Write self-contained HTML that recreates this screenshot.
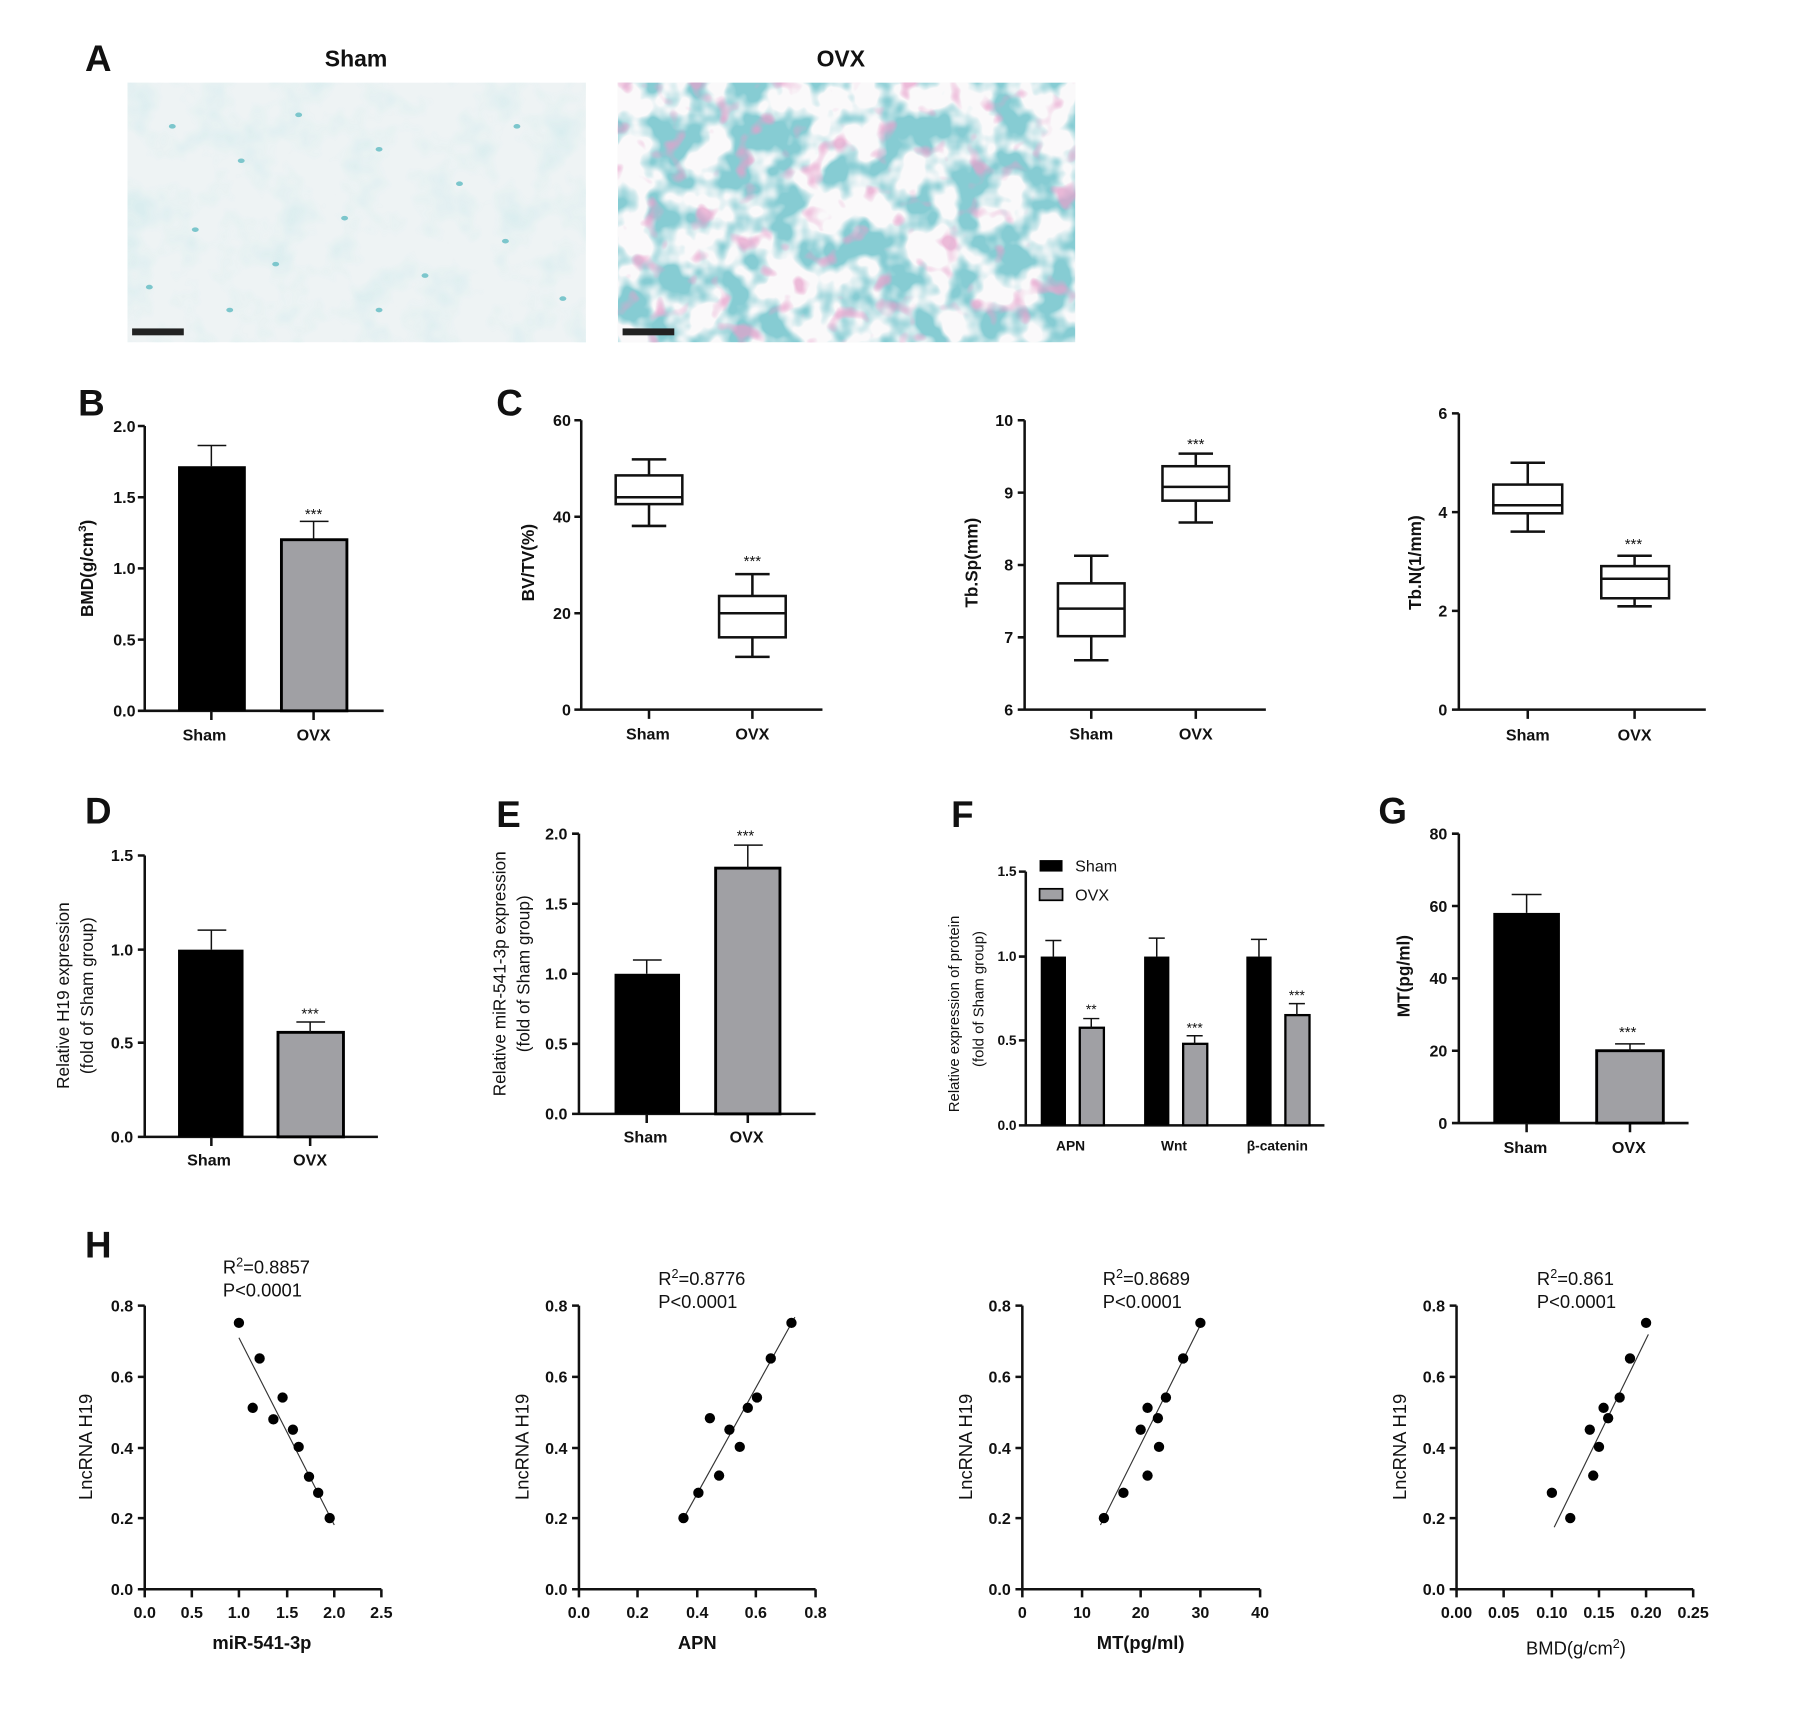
<!DOCTYPE html>
<html><head><meta charset="utf-8"><style>
html,body{margin:0;padding:0;background:#fff}
svg{display:block}
text{font-family:"Liberation Sans",Arial,sans-serif;fill:#111}
.t{font-size:14px;font-weight:bold}
.b{font-weight:bold}
.ax{stroke:#111;stroke-width:2.2;fill:none}
.thin{stroke:#111;stroke-width:1.3;fill:none}
</style></head><body>
<svg width="1800" height="1711" viewBox="0 0 1567 1490" preserveAspectRatio="none" xmlns="http://www.w3.org/2000/svg">
<defs>
<filter id="tex1" x="0" y="0" width="100%" height="100%">
<feTurbulence type="fractalNoise" baseFrequency="0.03" numOctaves="3" seed="3"/>
<feColorMatrix values="0 0 0 0 0.55  0 0 0 0 0.8  0 0 0 0 0.82  0 0 0 -2.2 1.25"/>
</filter>
<filter id="tex2" x="0" y="0" width="100%" height="100%">
<feTurbulence type="fractalNoise" baseFrequency="0.03" numOctaves="3" seed="7"/>
<feColorMatrix values="0 0 0 0 0.96  0 0 0 0 0.95  0 0 0 0 0.96  0 0 0 5 -1.9"/>
</filter>
<filter id="tex3" x="0" y="0" width="100%" height="100%">
<feTurbulence type="fractalNoise" baseFrequency="0.05" numOctaves="2" seed="11"/>
<feColorMatrix values="0 0 0 0 0.8  0 0 0 0 0.35  0 0 0 0 0.6  0 0 0 6 -3.6"/>
</filter>
</defs>

<!-- Panel A -->
<text x="74" y="62" font-size="32" class="b">A</text>
<text x="310" y="58" font-size="20" class="b" text-anchor="middle">Sham</text>
<text x="732" y="58" font-size="20" class="b" text-anchor="middle">OVX</text>
<rect x="111" y="72" width="399" height="226" fill="#eef3f4"/>
<rect x="111" y="72" width="399" height="226" filter="url(#tex1)" opacity="0.45"/>
<g fill="#7cc6cc">
<ellipse cx="150" cy="110" rx="3" ry="2"/><ellipse cx="210" cy="140" rx="3" ry="2"/><ellipse cx="260" cy="100" rx="3" ry="2"/><ellipse cx="330" cy="130" rx="3" ry="2"/><ellipse cx="400" cy="160" rx="3" ry="2"/><ellipse cx="450" cy="110" rx="3" ry="2"/><ellipse cx="170" cy="200" rx="3" ry="2"/><ellipse cx="240" cy="230" rx="3" ry="2"/><ellipse cx="300" cy="190" rx="3" ry="2"/><ellipse cx="370" cy="240" rx="3" ry="2"/><ellipse cx="440" cy="210" rx="3" ry="2"/><ellipse cx="490" cy="260" rx="3" ry="2"/><ellipse cx="200" cy="270" rx="3" ry="2"/><ellipse cx="330" cy="270" rx="3" ry="2"/><ellipse cx="130" cy="250" rx="3" ry="2"/>
</g>
<rect x="115" y="286" width="45" height="6" fill="#222"/>
<rect x="538" y="72" width="398" height="226" fill="#86ccd3"/>
<rect x="538" y="72" width="398" height="226" filter="url(#tex2)"/>
<rect x="538" y="72" width="398" height="226" filter="url(#tex3)" opacity="0.7"/>
<rect x="542" y="286" width="45" height="6" fill="#222"/>

<!-- Panel B -->
<text x="68" y="362" font-size="32" class="b">B</text>
<g class="t" text-anchor="end">
<text x="118" y="376">2.0</text><text x="118" y="438">1.5</text><text x="118" y="500">1.0</text><text x="118" y="562">0.5</text><text x="118" y="624">0.0</text>
</g>
<path class="ax" d="M126 371V619H334M120 371H126M120 433H126M120 495H126M120 557H126M120 619H126M184 619V627M273 619V627"/>
<rect x="155" y="406" width="59" height="213" fill="#000"/>
<path class="thin" d="M184 406V388M172 388H197"/>
<rect x="245" y="470" width="57" height="149" fill="#a0a0a4" stroke="#000" stroke-width="2.5"/>
<path class="thin" d="M273 470V454M261 454H286"/>
<text x="273" y="452" font-size="13" text-anchor="middle">***</text>
<text x="178" y="645" class="t" text-anchor="middle">Sham</text>
<text x="273" y="645" class="t" text-anchor="middle">OVX</text>
<text transform="translate(81,495) rotate(-90)" font-size="15" class="b" text-anchor="middle">BMD(g/cm<tspan dy="-6" font-size="10">3</tspan><tspan dy="6">)</tspan></text>

<!-- Panel C1 -->
<text x="432" y="362" font-size="32" class="b">C</text>
<g class="t" text-anchor="end">
<text x="497" y="371">60</text><text x="497" y="455">40</text><text x="497" y="539">20</text><text x="497" y="623">0</text>
</g>
<path class="ax" d="M506 366V618H716M500 366H506M500 450H506M500 534H506M500 618H506M565 618V626M655 618V626"/>
<g class="ax">
<rect x="536" y="414" width="58" height="25"/>
<path d="M565 414V400M550 400H580M565 439V458M550 458H580M536 433H594"/>
<rect x="626" y="519" width="58" height="36"/>
<path d="M655 519V500M640 500H670M655 555V572M640 572H670M626 534H684"/>
</g>
<text x="655" y="493" font-size="13" text-anchor="middle">***</text>
<text x="564" y="644" class="t" text-anchor="middle">Sham</text>
<text x="655" y="644" class="t" text-anchor="middle">OVX</text>
<text transform="translate(465,490) rotate(-90)" font-size="15" class="b" text-anchor="middle">BV/TV(%)</text>

<!-- Panel C2 -->
<g class="t" text-anchor="end">
<text x="882" y="371">10</text><text x="882" y="434">9</text><text x="882" y="497">8</text><text x="882" y="560">7</text><text x="882" y="623">6</text>
</g>
<path class="ax" d="M892 366V618H1102M886 366H892M886 429H892M886 492H892M886 555H892M886 618H892M950 618V626M1041 618V626"/>
<g class="ax">
<rect x="921" y="508" width="58" height="46"/>
<path d="M950 508V484M935 484H965M950 554V575M935 575H965M921 530H979"/>
<rect x="1012" y="406" width="58" height="30"/>
<path d="M1041 406V395M1026 395H1056M1041 436V455M1026 455H1056M1012 424H1070"/>
</g>
<text x="1041" y="391" font-size="13" text-anchor="middle">***</text>
<text x="950" y="644" class="t" text-anchor="middle">Sham</text>
<text x="1041" y="644" class="t" text-anchor="middle">OVX</text>
<text transform="translate(851,490) rotate(-90)" font-size="15" class="b" text-anchor="middle">Tb.Sp(mm)</text>

<!-- Panel C3 -->
<g class="t" text-anchor="end">
<text x="1260" y="365">6</text><text x="1260" y="451">4</text><text x="1260" y="537">2</text><text x="1260" y="623">0</text>
</g>
<path class="ax" d="M1270 360V618H1485M1264 360H1270M1264 446H1270M1264 532H1270M1264 618H1270M1330 618V626M1423 618V626"/>
<g class="ax">
<rect x="1300" y="422" width="60" height="25"/>
<path d="M1330 422V403M1315 403H1345M1330 447V463M1315 463H1345M1300 440H1360"/>
<rect x="1394" y="493" width="59" height="28"/>
<path d="M1423 493V484M1408 484H1438M1423 521V528M1408 528H1438M1394 504H1453"/>
</g>
<text x="1422" y="478" font-size="13" text-anchor="middle">***</text>
<text x="1330" y="645" class="t" text-anchor="middle">Sham</text>
<text x="1423" y="645" class="t" text-anchor="middle">OVX</text>
<text transform="translate(1237,490) rotate(-90)" font-size="15" class="b" text-anchor="middle">Tb.N(1/mm)</text>

<!-- Panel D -->
<text x="74" y="717" font-size="32" class="b">D</text>
<g class="t" text-anchor="end">
<text x="116" y="750">1.5</text><text x="116" y="832">1.0</text><text x="116" y="913">0.5</text><text x="116" y="995">0.0</text>
</g>
<path class="ax" d="M126 745V990H329M120 745H126M120 827H126M120 908H126M120 990H126M184 990V998M270 990V998"/>
<rect x="155" y="827" width="57" height="163" fill="#000"/>
<path class="thin" d="M184 827V810M172 810H197"/>
<rect x="242" y="899" width="57" height="91" fill="#a0a0a4" stroke="#000" stroke-width="2.5"/>
<path class="thin" d="M270 899V890M258 890H283"/>
<text x="270" y="887" font-size="13" text-anchor="middle">***</text>
<text x="182" y="1015" class="t" text-anchor="middle">Sham</text>
<text x="270" y="1015" class="t" text-anchor="middle">OVX</text>
<text transform="translate(60,867) rotate(-90)" font-size="15" text-anchor="middle">Relative H19  expression</text>
<text transform="translate(81,867) rotate(-90)" font-size="15" text-anchor="middle">(fold of Sham group)</text>

<!-- Panel E -->
<text x="432" y="720" font-size="32" class="b">E</text>
<g class="t" text-anchor="end">
<text x="494" y="731">2.0</text><text x="494" y="792">1.5</text><text x="494" y="853">1.0</text><text x="494" y="914">0.5</text><text x="494" y="975">0.0</text>
</g>
<path class="ax" d="M504 726V970H710M498 726H504M498 787H504M498 848H504M498 909H504M498 970H504M563 970V978M651 970V978"/>
<rect x="535" y="848" width="57" height="122" fill="#000"/>
<path class="thin" d="M563 848V836M551 836H576"/>
<rect x="623" y="756" width="56" height="214" fill="#a0a0a4" stroke="#000" stroke-width="2.5"/>
<path class="thin" d="M651 756V736M639 736H664"/>
<text x="649" y="732" font-size="13" text-anchor="middle">***</text>
<text x="562" y="995" class="t" text-anchor="middle">Sham</text>
<text x="650" y="995" class="t" text-anchor="middle">OVX</text>
<text transform="translate(440,848) rotate(-90)" font-size="15" text-anchor="middle">Relative miR-541-3p expression</text>
<text transform="translate(461,848) rotate(-90)" font-size="15" text-anchor="middle">(fold of Sham group)</text>

<!-- Panel F -->
<text x="828" y="720" font-size="32" class="b">F</text>
<g font-size="12" class="b" text-anchor="end">
<text x="885" y="763">1.5</text><text x="885" y="837">1.0</text><text x="885" y="910">0.5</text><text x="885" y="984">0.0</text>
</g>
<path class="ax" d="M893 759V980H1153M887 759H893M887 833H893M887 906H893M887 980H893"/>
<rect x="906" y="833" width="22" height="147" fill="#000"/><path class="thin" d="M917 833V819M910 819H924"/>
<rect x="996" y="833" width="22" height="147" fill="#000"/><path class="thin" d="M1007 833V817M1000 817H1014"/>
<rect x="1085" y="833" width="22" height="147" fill="#000"/><path class="thin" d="M1096 833V818M1089 818H1103"/>
<rect x="940" y="895" width="21" height="85" fill="#a0a0a4" stroke="#000" stroke-width="2"/><path class="thin" d="M950 895V887M943 887H957"/>
<rect x="1030" y="909" width="21" height="71" fill="#a0a0a4" stroke="#000" stroke-width="2"/><path class="thin" d="M1040 909V902M1033 902H1047"/>
<rect x="1119" y="884" width="21" height="96" fill="#a0a0a4" stroke="#000" stroke-width="2"/><path class="thin" d="M1129 884V874M1122 874H1136"/>
<text x="950" y="883" font-size="12" text-anchor="middle">**</text>
<text x="1040" y="899" font-size="12" text-anchor="middle">***</text>
<text x="1129" y="871" font-size="12" text-anchor="middle">***</text>
<rect x="905" y="749" width="20" height="10" fill="#000"/>
<text x="936" y="759" font-size="14">Sham</text>
<rect x="905" y="774" width="20" height="10" fill="#a0a0a4" stroke="#000" stroke-width="1.5"/>
<text x="936" y="784" font-size="14">OVX</text>
<text x="932" y="1002" font-size="12" class="b" text-anchor="middle">APN</text>
<text x="1022" y="1002" font-size="12" class="b" text-anchor="middle">Wnt</text>
<text x="1112" y="1002" font-size="12" class="b" text-anchor="middle">β-catenin</text>
<text transform="translate(835,883) rotate(-90)" font-size="13" text-anchor="middle">Relative  expression of protein</text>
<text transform="translate(856,870) rotate(-90)" font-size="13" text-anchor="middle">(fold of Sham group)</text>

<!-- Panel G -->
<text x="1200" y="717" font-size="32" class="b">G</text>
<g class="t" text-anchor="end">
<text x="1260" y="731">80</text><text x="1260" y="794">60</text><text x="1260" y="857">40</text><text x="1260" y="920">20</text><text x="1260" y="983">0</text>
</g>
<path class="ax" d="M1270 726V978H1470M1264 726H1270M1264 789H1270M1264 852H1270M1264 915H1270M1264 978H1270M1329 978V986M1419 978V986"/>
<rect x="1300" y="795" width="58" height="183" fill="#000"/>
<path class="thin" d="M1329 795V779M1316 779H1342"/>
<rect x="1390" y="915" width="58" height="63" fill="#a0a0a4" stroke="#000" stroke-width="2.5"/>
<path class="thin" d="M1419 915V909M1406 909H1432"/>
<text x="1417" y="903" font-size="13" text-anchor="middle">***</text>
<text x="1328" y="1004" class="t" text-anchor="middle">Sham</text>
<text x="1418" y="1004" class="t" text-anchor="middle">OVX</text>
<text transform="translate(1227,850) rotate(-90)" font-size="15" class="b" text-anchor="middle">MT(pg/ml)</text>

<!-- Panel H -->
<text x="74" y="1095" font-size="32" class="b">H</text>

<!-- H1 -->
<g class="t" text-anchor="end"><text x="116" y="1142">0.8</text><text x="116" y="1204">0.6</text><text x="116" y="1266">0.4</text><text x="116" y="1327">0.2</text><text x="116" y="1389">0.0</text></g>
<path class="ax" d="M126 1137V1384H332M120 1137H126M120 1199H126M120 1261H126M120 1322H126M120 1384H126M126 1384V1391M167 1384V1391M208 1384V1391M250 1384V1391M291 1384V1391M332 1384V1391"/>
<g class="t" text-anchor="middle"><text x="126" y="1409">0.0</text><text x="167" y="1409">0.5</text><text x="208" y="1409">1.0</text><text x="250" y="1409">1.5</text><text x="291" y="1409">2.0</text><text x="332" y="1409">2.5</text></g>
<line x1="208" y1="1165" x2="291" y2="1328" stroke="#333" stroke-width="1"/>
<g fill="#000"><circle cx="208" cy="1152" r="4.5"/><circle cx="226" cy="1183" r="4.5"/><circle cx="220" cy="1226" r="4.5"/><circle cx="246" cy="1217" r="4.5"/><circle cx="238" cy="1236" r="4.5"/><circle cx="255" cy="1245" r="4.5"/><circle cx="260" cy="1260" r="4.5"/><circle cx="269" cy="1286" r="4.5"/><circle cx="277" cy="1300" r="4.5"/><circle cx="287" cy="1322" r="4.5"/></g>
<text x="194" y="1109" font-size="16">R<tspan dy="-6" font-size="11">2</tspan><tspan dy="6">=0.8857</tspan></text>
<text x="194" y="1129" font-size="16">P&lt;0.0001</text>
<text x="228" y="1436" font-size="16" class="b" text-anchor="middle">miR-541-3p</text>
<text transform="translate(80,1260) rotate(-90)" font-size="16" text-anchor="middle">LncRNA  H19</text>

<!-- H2 -->
<g class="t" text-anchor="end"><text x="494" y="1142">0.8</text><text x="494" y="1204">0.6</text><text x="494" y="1266">0.4</text><text x="494" y="1327">0.2</text><text x="494" y="1389">0.0</text></g>
<path class="ax" d="M504 1137V1384H710M498 1137H504M498 1199H504M498 1261H504M498 1322H504M498 1384H504M504 1384V1391M555 1384V1391M607 1384V1391M658 1384V1391M710 1384V1391"/>
<g class="t" text-anchor="middle"><text x="504" y="1409">0.0</text><text x="555" y="1409">0.2</text><text x="607" y="1409">0.4</text><text x="658" y="1409">0.6</text><text x="710" y="1409">0.8</text></g>
<line x1="593" y1="1326" x2="692" y2="1147" stroke="#333" stroke-width="1"/>
<g fill="#000"><circle cx="595" cy="1322" r="4.5"/><circle cx="608" cy="1300" r="4.5"/><circle cx="626" cy="1285" r="4.5"/><circle cx="618" cy="1235" r="4.5"/><circle cx="635" cy="1245" r="4.5"/><circle cx="644" cy="1260" r="4.5"/><circle cx="651" cy="1226" r="4.5"/><circle cx="659" cy="1217" r="4.5"/><circle cx="671" cy="1183" r="4.5"/><circle cx="689" cy="1152" r="4.5"/></g>
<text x="573" y="1119" font-size="16">R<tspan dy="-6" font-size="11">2</tspan><tspan dy="6">=0.8776</tspan></text>
<text x="573" y="1139" font-size="16">P&lt;0.0001</text>
<text x="607" y="1436" font-size="16" class="b" text-anchor="middle">APN</text>
<text transform="translate(460,1260) rotate(-90)" font-size="16" text-anchor="middle">LncRNA H19</text>

<!-- H3 -->
<g class="t" text-anchor="end"><text x="880" y="1142">0.8</text><text x="880" y="1204">0.6</text><text x="880" y="1266">0.4</text><text x="880" y="1327">0.2</text><text x="880" y="1389">0.0</text></g>
<path class="ax" d="M890 1137V1384H1097M884 1137H890M884 1199H890M884 1261H890M884 1322H890M884 1384H890M890 1384V1391M942 1384V1391M993 1384V1391M1045 1384V1391M1097 1384V1391"/>
<g class="t" text-anchor="middle"><text x="890" y="1409">0</text><text x="942" y="1409">10</text><text x="993" y="1409">20</text><text x="1045" y="1409">30</text><text x="1097" y="1409">40</text></g>
<line x1="958" y1="1328" x2="1047" y2="1150" stroke="#333" stroke-width="1"/>
<g fill="#000"><circle cx="961" cy="1322" r="4.5"/><circle cx="978" cy="1300" r="4.5"/><circle cx="999" cy="1285" r="4.5"/><circle cx="993" cy="1245" r="4.5"/><circle cx="999" cy="1226" r="4.5"/><circle cx="1008" cy="1235" r="4.5"/><circle cx="1009" cy="1260" r="4.5"/><circle cx="1015" cy="1217" r="4.5"/><circle cx="1030" cy="1183" r="4.5"/><circle cx="1045" cy="1152" r="4.5"/></g>
<text x="960" y="1119" font-size="16">R<tspan dy="-6" font-size="11">2</tspan><tspan dy="6">=0.8689</tspan></text>
<text x="960" y="1139" font-size="16">P&lt;0.0001</text>
<text x="993" y="1436" font-size="16" class="b" text-anchor="middle">MT(pg/ml)</text>
<text transform="translate(846,1260) rotate(-90)" font-size="16" text-anchor="middle">LncRNA H19</text>

<!-- H4 -->
<g class="t" text-anchor="end"><text x="1258" y="1142">0.8</text><text x="1258" y="1204">0.6</text><text x="1258" y="1266">0.4</text><text x="1258" y="1327">0.2</text><text x="1258" y="1389">0.0</text></g>
<path class="ax" d="M1268 1137V1384H1474M1262 1137H1268M1262 1199H1268M1262 1261H1268M1262 1322H1268M1262 1384H1268M1268 1384V1391M1309 1384V1391M1351 1384V1391M1392 1384V1391M1433 1384V1391M1474 1384V1391"/>
<g class="t" text-anchor="middle"><text x="1268" y="1409">0.00</text><text x="1309" y="1409">0.05</text><text x="1351" y="1409">0.10</text><text x="1392" y="1409">0.15</text><text x="1433" y="1409">0.20</text><text x="1474" y="1409">0.25</text></g>
<line x1="1353" y1="1330" x2="1435" y2="1162" stroke="#333" stroke-width="1"/>
<g fill="#000"><circle cx="1351" cy="1300" r="4.5"/><circle cx="1367" cy="1322" r="4.5"/><circle cx="1384" cy="1245" r="4.5"/><circle cx="1387" cy="1285" r="4.5"/><circle cx="1392" cy="1260" r="4.5"/><circle cx="1396" cy="1226" r="4.5"/><circle cx="1400" cy="1235" r="4.5"/><circle cx="1410" cy="1217" r="4.5"/><circle cx="1419" cy="1183" r="4.5"/><circle cx="1433" cy="1152" r="4.5"/></g>
<text x="1338" y="1119" font-size="16">R<tspan dy="-6" font-size="11">2</tspan><tspan dy="6">=0.861</tspan></text>
<text x="1338" y="1139" font-size="16">P&lt;0.0001</text>
<text x="1372" y="1441" font-size="16" text-anchor="middle">BMD(g/cm<tspan dy="-6" font-size="11">2</tspan><tspan dy="6">)</tspan></text>
<text transform="translate(1224,1260) rotate(-90)" font-size="16" text-anchor="middle">LncRNA H19</text>
</svg>
</body></html>
